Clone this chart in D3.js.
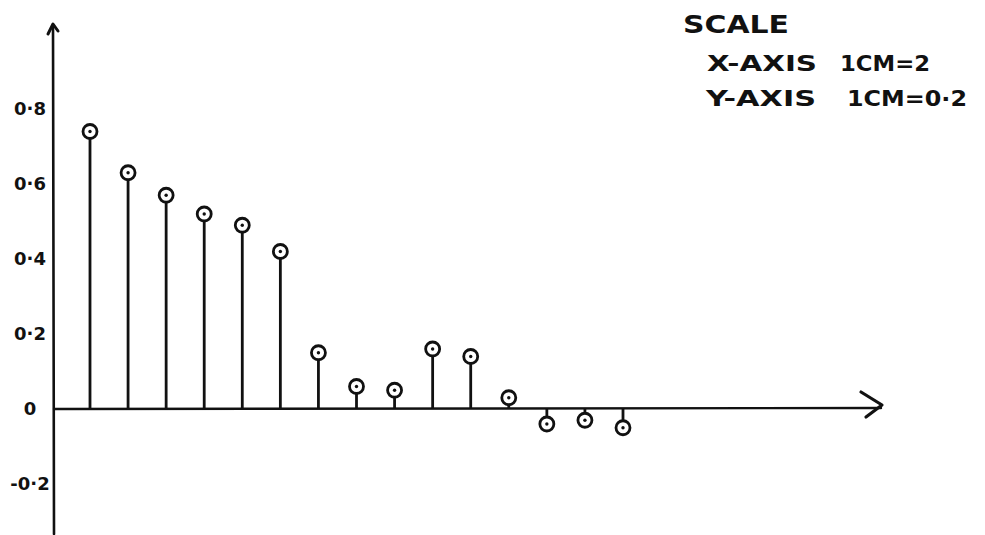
<!DOCTYPE html>
<html>
<head>
<meta charset="utf-8">
<script src="https://cdn.jsdelivr.net/npm/d3@7"></script>
<style>
  html, body { margin: 0; padding: 0; background: #fff; }
  svg { display: block; }
  text { font-family: "DejaVu Sans", sans-serif; fill: #111; }
</style>
</head>
<body>
<svg id="chart" width="985" height="535"></svg>
<script>
// Sample index n and the sampled value x(n)
const samples = [1, 2, 3, 4, 5, 6, 7, 8, 9, 10, 11, 12, 13, 14, 15];
const values  = [0.74, 0.63, 0.57, 0.52, 0.49, 0.42, 0.15, 0.06, 0.05, 0.16, 0.14, 0.03, -0.04, -0.03, -0.05];

// Y tick labels
const yTickValues = [0.8, 0.6, 0.4, 0.2, 0, -0.2];
const yTickLabels = ["0·8", "0·6", "0·4", "0·2", "0", "-0·2"];

// Scale note
const scaleTitle = "SCALE";
const scaleRows = [
  ["X-AXIS", "1CM=2"],
  ["Y-AXIS", "1CM=0·2"]
];

const svg = d3.select("#chart");
const ink = "#111";

const x = d3.scaleLinear().domain([1, 15]).range([90, 623]);
const y = d3.scaleLinear().domain([0, 0.8]).range([409, 109]);
const originX = 54;
const y0 = y(0);

// Axes with arrowheads
const axes = svg.append("g").attr("stroke", ink).attr("fill", "none")
  .attr("stroke-linecap", "round").attr("stroke-linejoin", "round");
axes.append("line").attr("x1", originX).attr("y1", 534).attr("x2", originX - 1).attr("y2", 25)
  .attr("stroke-width", 2.6);
axes.append("path").attr("d", `M${originX - 6},${34} L${originX - 1},${24} L${originX + 4},${31}`)
  .attr("stroke-width", 3);
axes.append("line").attr("x1", originX).attr("y1", y0).attr("x2", 881).attr("y2", y0 - 1)
  .attr("stroke-width", 2.4);
axes.append("path").attr("d", `M861,${y0 - 17} L882,${y0 - 4} L866,${y0 + 8}`)
  .attr("stroke-width", 3.2);

// Y tick labels via axis generator
const yAxis = d3.axisLeft(y)
  .tickValues(yTickValues)
  .tickSize(0)
  .tickFormat((d, i) => yTickLabels[i]);
const yg = svg.append("g").attr("transform", `translate(${originX},0)`).call(yAxis);
yg.select(".domain").remove();
yg.selectAll("text")
  .attr("x", -24)
  .attr("text-anchor", "middle")
  .style("font-family", "'DejaVu Sans', sans-serif")
  .style("font-size", "18px")
  .style("font-weight", "bold")
  .attr("fill", ink);

// Stems
const r = 7;
const data = samples.map((n, i) => ({ n, v: values[i] }));
const stems = svg.append("g");
stems.selectAll("line.stem").data(data).join("line")
  .attr("class", "stem")
  .attr("x1", d => x(d.n)).attr("x2", d => x(d.n))
  .attr("y1", y0)
  .attr("y2", d => d.v >= 0 ? y(d.v) + r : y(d.v) - r)
  .attr("stroke", ink).attr("stroke-width", 2.8);

stems.selectAll("circle.head").data(data).join("circle")
  .attr("class", "head")
  .attr("cx", d => x(d.n)).attr("cy", d => y(d.v)).attr("r", r)
  .attr("fill", "#fff").attr("stroke", ink).attr("stroke-width", 2.8);

stems.selectAll("circle.dot").data(data).join("circle")
  .attr("class", "dot")
  .attr("cx", d => x(d.n)).attr("cy", d => y(d.v)).attr("r", 1.7)
  .attr("fill", ink);

// Scale note
const note = svg.append("g").style("font-weight", "bold");
note.append("text").attr("x", 683).attr("y", 33)
  .attr("textLength", 106).attr("lengthAdjust", "spacingAndGlyphs")
  .style("font-size", "24px").text(scaleTitle);
const rowY = [71, 106];
const leftX = [707, 706];
const rightX = [840, 847];
const rightW = [90, 120];
scaleRows.forEach((row, i) => {
  note.append("text").attr("x", leftX[i]).attr("y", rowY[i])
    .attr("textLength", 110).attr("lengthAdjust", "spacingAndGlyphs")
    .style("font-size", "22px").text(row[0]);
  note.append("text").attr("x", rightX[i]).attr("y", rowY[i])
    .attr("textLength", rightW[i]).attr("lengthAdjust", "spacingAndGlyphs")
    .style("font-size", "22px").text(row[1]);
});
</script>
</body>
</html>
